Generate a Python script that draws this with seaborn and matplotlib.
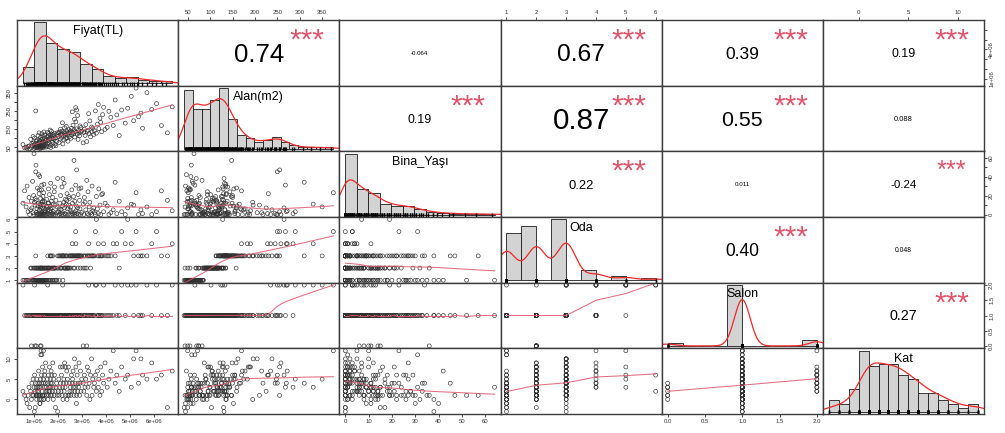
import numpy as np
import matplotlib
matplotlib.use("Agg")
import matplotlib.pyplot as plt
import seaborn as sns
from matplotlib.textpath import TextPath
from matplotlib.font_manager import FontProperties
from matplotlib.transforms import ScaledTranslation

# ---------------------------------------------------------------------------
# Listings: one entry per flat (price in thousand TL)
# ---------------------------------------------------------------------------
fiyat_bin_tl = [
    550, 620, 680, 720, 760, 800, 830, 870, 900, 920, 950, 970, 990,
    1010, 1020, 1030, 1050, 1060, 1080, 1090, 1100, 1100, 1120,
    1130, 1150, 1150, 1170, 1180, 1200, 1200, 1210, 1220, 1230,
    1240, 1250, 1250, 1260, 1270, 1280, 1290, 1300, 1300, 1310,
    1320, 1330, 1340, 1350, 1350, 1360, 1370, 1380, 1390, 1400,
    1400, 1410, 1420, 1430, 1440, 1450, 1460, 1480, 1490, 1500,
    1520, 1530, 1550, 1560, 1580, 1590, 1600, 1610, 1620, 1640,
    1650, 1660, 1680, 1690, 1700, 1700, 1720, 1730, 1750, 1760,
    1780, 1790, 1800, 1810, 1830, 1850, 1860, 1880, 1900, 1920,
    1950, 1970, 1990,
    2020, 2040, 2050, 2080, 2100, 2110, 2130, 2150, 2170, 2190,
    2200, 2210, 2230, 2250, 2260, 2280, 2300, 2310, 2330, 2350,
    2370, 2380, 2400, 2420, 2440, 2460, 2480, 2500,
    2520, 2540, 2560, 2580, 2600, 2610, 2630, 2650, 2670, 2690,
    2700, 2720, 2740, 2750, 2770, 2780, 2800, 2820, 2840, 2860,
    2880, 2900, 2920, 2940, 2960, 2990,
    3050, 3080, 3100, 3130, 3160, 3200, 3220, 3250, 3280, 3300,
    3330, 3360, 3400, 3420, 3450, 3490,
    3520, 3560, 3600, 3640, 3680, 3700, 3750, 3780, 3820, 3860, 3900, 3960,
    4050, 4120, 4200, 4300, 4380, 4450,
    4550, 4650, 4800, 4900,
    5050, 5150, 5250, 5350, 5450,
    5520, 5700, 5900,
    6100, 6300,
    6550, 6750,
]

alan_m2 = [
    66, 48, 52, 45, 55, 58, 42, 95, 50, 72, 60, 110, 75,
    64, 45, 102, 55, 50, 250, 58, 70, 85, 48,
    90, 52, 68, 55, 115, 47, 76, 60, 130, 53,
    80, 88, 57, 62, 44, 105, 59, 74, 50, 93,
    56, 66, 125, 49, 78, 97, 54, 112, 58, 72,
    83, 51, 135, 60, 65, 99, 118, 79, 87, 52,
    58, 92, 108, 70, 133, 86, 114, 55, 126, 75,
    101, 96, 145, 118, 62, 50, 105, 138, 89, 112,
    78, 122, 100, 57, 116, 94, 128, 68, 103, 59,
    83, 119, 131,
    110, 128, 77, 135, 95, 150, 121, 106, 139, 185,
    124, 69, 113, 91, 132, 158, 117, 127, 98, 165,
    104, 136, 120, 84, 129, 147, 109, 133,
    140, 100, 155, 118, 245, 131, 172, 125, 148, 205,
    107, 137, 268, 190, 152, 255, 122, 225, 94, 143,
    129, 114, 168, 134, 159, 139,
    75, 132, 150, 116, 175, 82, 138, 144, 235, 126,
    195, 108, 162, 135, 156, 121,
    142, 250, 128, 178, 285, 153, 210, 188, 136, 230, 270, 149,
    160, 248, 215, 170, 310, 228,
    115, 255, 183, 265,
    330, 196, 375, 218, 238,
    155, 350, 258,
    290, 170,
    130, 272,
]

bina_yasi = [
    12, 25, 8, 30, 3, 18, 0, 5, 14, 7, 35, 2, 20,
    64, 0, 13, 10, 17, 45, 52, 15, 2, 0,
    6, 28, 0, 9, 1, 42, 12, 0, 22, 26,
    5, 0, 40, 11, 8, 17, 1, 6, 0, 11,
    26, 31, 2, 13, 0, 7, 14, 19, 0, 10,
    1, 23, 32, 2, 14, 0, 4, 0, 3, 6,
    9, 16, 0, 8, 5, 1, 12, 27, 12, 0,
    21, 4, 9, 0, 33, 6, 2, 14, 0, 7,
    18, 1, 11, 3, 0, 24, 29, 10, 0, 15,
    2, 8, 38,
    3, 0, 6, 12, 1, 20, 5, 0, 29, 2,
    9, 38, 0, 13, 33, 7, 1, 16, 0, 11,
    15, 22, 6, 0, 10, 19, 17, 5,
    0, 8, 3, 26, 1, 12, 0, 19, 57, 2,
    14, 0, 31, 4, 9, 47, 1, 7, 21, 0,
    27, 15, 6, 0, 28, 2,
    11, 0, 18, 13, 5, 36, 1, 24, 0, 8,
    13, 2, 0, 30, 4, 7,
    2, 0, 19, 6, 1, 27, 10, 0, 21, 22, 3, 12,
    9, 0, 2, 5, 34, 1,
    14, 3, 0, 7,
    11, 10, 23, 0, 5,
    1, 8, 0,
    3, 25,
    15, 4,
]

oda = [
    1, 1, 1, 1, 1, 1, 1, 2, 2, 1, 1, 2, 1,
    1, 1, 2, 2, 1, 3, 1, 2, 1, 1,
    2, 1, 2, 1, 2, 1, 1, 1, 2, 1,
    1, 2, 1, 1, 2, 2, 1, 2, 1, 2,
    1, 1, 2, 1, 1, 2, 1, 2, 1, 1,
    1, 1, 2, 1, 1, 2, 2, 1, 2, 1,
    1, 2, 2, 1, 3, 2, 2, 1, 2, 1,
    2, 2, 3, 3, 1, 1, 2, 3, 2, 2,
    1, 3, 2, 1, 2, 2, 2, 1, 2, 1,
    1, 2, 3,
    2, 3, 1, 3, 2, 3, 2, 2, 3, 3,
    3, 1, 3, 2, 3, 2, 2, 3, 2, 3,
    2, 3, 2, 2, 2, 3, 2, 3,
    3, 2, 3, 3, 4, 3, 3, 2, 3, 3,
    2, 3, 5, 4, 3, 3, 3, 3, 2, 3,
    3, 3, 3, 2, 3, 3,
    2, 3, 3, 2, 3, 2, 3, 3, 4, 3,
    3, 2, 3, 3, 3, 3,
    3, 5, 6, 3, 4, 3, 3, 3, 3, 3, 4, 3,
    3, 3, 3, 4, 3, 4,
    2, 5, 4, 6,
    4, 3, 5, 3, 3,
    3, 3, 4,
    5, 3,
    3, 4,
]

salon = [
    2, 1, 1, 1, 1, 1, 1, 1, 0, 1, 1, 1, 1,
    1, 1, 2, 0, 1, 1, 1, 0, 1, 1,
    1, 1, 1, 1, 1, 1, 1, 1, 1, 1,
    1, 1, 1, 1, 0, 1, 1, 0, 1, 1,
    1, 1, 1, 1, 1, 1, 1, 1, 1, 1,
    1, 1, 1, 1, 1, 1, 1, 1, 1, 1,
    1, 1, 1, 1, 2, 1, 1, 1, 1, 1,
    1, 1, 1, 1, 1, 1, 1, 1, 1, 1,
    1, 1, 1, 1, 1, 1, 1, 1, 1, 1,
    1, 1, 1,
    1, 1, 1, 1, 1, 1, 1, 1, 1, 1,
    2, 1, 1, 1, 1, 1, 1, 1, 1, 1,
    1, 1, 1, 1, 1, 1, 1, 1,
    1, 1, 1, 1, 1, 1, 1, 1, 1, 1,
    1, 1, 1, 1, 1, 1, 1, 1, 1, 1,
    1, 1, 1, 1, 1, 1,
    0, 1, 1, 1, 1, 0, 1, 1, 2, 1,
    1, 1, 1, 1, 1, 1,
    1, 2, 2, 1, 1, 1, 1, 1, 1, 1, 2, 1,
    1, 1, 1, 1, 2, 1,
    1, 2, 1, 2,
    2, 1, 2, 1, 1,
    1, 2, 1,
    2, 1,
    1, 2,
]

kat = [
    2, 1, 0, -1, 1, 3, -2, 2, 0, 4, 1, 5, 1,
    3, -3, 6, 2, -2, 4, 1, 3, 1, 0,
    5, 2, 1, 4, 3, 7, 1, 2, 1, 0,
    3, 4, -1, -1, 1, 5, 11, 3, 12, 0,
    6, 11, 4, 1, 2, 8, 1, 1, 5, 12,
    0, 4, 0, 1, 6, 3, 7, 4, 9, 2,
    3, 1, 2, 5, 4, 0, 6, 1, 2, 3,
    8, 2, 5, 1, 4, 3, 7, 1, 6, 4,
    2, 9, 3, 0, 5, 1, 6, 2, -2, 3,
    4, 1, -3,
    2, 5, 1, 3, 8, 4, 2, 6, 1, 8,
    3, 0, 4, 5, 2, 9, 3, 8, 1, 4,
    7, 0, 5, 1, 8, 1, 4, 2,
    3, 1, 6, 2, 4, 5, 7, 3, 1, 10,
    2, 4, 3, 8, -1, 1, 6, 2, 4, 3,
    9, 1, 4, 7, 2, 5,
    4, 2, 6, 3, 5, 1, 8, 3, 7, 4,
    0, 6, 10, 1, 5, 3,
    4, 6, 2, 7, 3, 5, 1, 8, 2, 6, 4, 9,
    3, 5, 7, 12, 4, 6,
    2, 8, 5, 6,
    3, 10, 12, 4, 10,
    6, 5, 9,
    5, 6,
    -2, 7,
]

var_labels = ["Fiyat(TL)", "Alan(m2)", "Bina_Yaşı", "Oda", "Salon", "Kat"]

# Pearson r for the upper panels (row-major over i < j) and significance marks
corr_labels = ["0.74", "-0.064", "0.67", "0.39", "0.19",
               "0.19", "0.87", "0.55", "0.088",
               "0.22", "0.011", "-0.24",
               "0.40", "0.048",
               "0.27"]
corr_stars = ["***", "", "***", "***", "***",
              "***", "***", "***", "",
              "***", "", "***",
              "***", "",
              "***"]

# outer axis ticks for every variable
axis_ticks = [
    [1e6, 2e6, 3e6, 4e6, 5e6, 6e6],
    [50, 100, 150, 200, 250, 300, 350],
    [0, 10, 20, 30, 40, 50, 60],
    [1, 2, 3, 4, 5, 6],
    [0.0, 0.5, 1.0, 1.5, 2.0],
    [0, 5, 10],
]
horiz_tick_labels = [
    ["1e+06", "2e+06", "3e+06", "4e+06", "5e+06", "6e+06"],
    ["50", "100", "150", "200", "250", "300", "350"],
    ["0", "10", "20", "30", "40", "50", "60"],
    ["1", "2", "3", "4", "5", "6"],
    ["0.0", "0.5", "1.0", "1.5", "2.0"],
    ["0", "5", "10"],
]
vert_tick_labels = [
    ["1e+06", "", "", "4e+06", "", ""],
    ["50", "", "150", "", "250", "", "350"],
    ["0", "", "20", "", "40", "", "60"],
    ["1", "2", "3", "4", "5", "6"],
    ["0.0", "0.5", "1.0", "1.5", "2.0"],
    ["0", "5", "10"],
]

# histogram bin width for each variable
hist_bin_width = [500000, 20, 5, 0.5, 0.2, 1]

# ---------------------------------------------------------------------------
plt.rcParams["font.family"] = ["Liberation Sans", "DejaVu Sans"]

DPI = 100
W_PX, H_PX = 1005, 433
FRAME = "#3c3c3c"
SMOOTH = "#DF536B"
DENS = "#F02828"
STAR = "#DF536B"
TICK_COLOR = "#333333"

columns = [np.asarray(fiyat_bin_tl, float) * 1000.0,
           np.asarray(alan_m2, float),
           np.asarray(bina_yasi, float),
           np.asarray(oda, float),
           np.asarray(salon, float),
           np.asarray(kat, float)]
nvar = len(columns)
assert len({len(c) for c in columns}) == 1


def padded_range(lo, hi):
    pad = 0.04 * (hi - lo)
    return lo - pad, hi + pad


def lowess_curve(x, y, frac=2 / 3, iters=3):
    x = np.asarray(x, float)
    y = np.asarray(y, float)
    order = np.argsort(x, kind="mergesort")
    x, y = x[order], y[order]
    n = len(x)
    ns = max(min(int(round(frac * n)), n), 2)
    dist = np.abs(x[:, None] - x[None, :])
    h = np.sort(dist, axis=1)[:, ns - 1]
    span = x[-1] - x[0]
    rw = np.ones(n)
    fit = np.zeros(n)
    for it in range(iters + 1):
        with np.errstate(divide="ignore", invalid="ignore"):
            u = np.where(h[:, None] > 0, dist / np.where(h > 0, h, 1)[:, None],
                         np.where(dist == 0, 0.0, 2.0))
        w = np.where(u < 0.999, (1 - np.clip(u, 0, 1) ** 3) ** 3, 0.0)
        w = np.where(u <= 0.001, 1.0, w)
        w = w * rw[None, :]
        sw = w.sum(axis=1)
        sw = np.where(sw > 0, sw, 1.0)
        wn = w / sw[:, None]
        xm = wn @ x
        ym = wn @ y
        dx = x[None, :] - xm[:, None]
        b = (wn * dx ** 2).sum(axis=1)
        num = (wn * dx * y[None, :]).sum(axis=1)
        slope = np.where(np.sqrt(b) > 0.001 * span, num / np.where(b > 0, b, 1.0), 0.0)
        fit = ym + slope * (x - xm)
        res = y - fit
        cmad = 6 * np.median(np.abs(res))
        if it == iters or cmad < 1e-7 * np.mean(np.abs(y)):
            break
        r = np.abs(res) / cmad
        rw = np.where(r < 0.999, (1 - r ** 2) ** 2, 0.0)
        rw = np.where(r <= 0.001, 1.0, rw)
    xu, idx = np.unique(x, return_index=True)
    return xu, fit[idx]


def bw_nrd0(v):
    hi = np.std(v, ddof=1)
    q75, q25 = np.percentile(v, [75, 25])
    lo = min(hi, (q75 - q25) / 1.34)
    if lo == 0:
        lo = hi if hi > 0 else (abs(v[0]) if v[0] != 0 else 1.0)
    return 0.9 * lo * len(v) ** -0.2


def kernel_density(v):
    bw = bw_nrd0(v)
    grid = np.linspace(v.min() - 3 * bw, v.max() + 3 * bw, 512)
    z = (grid[:, None] - v[None, :]) / bw
    dens = np.exp(-0.5 * z ** 2).sum(axis=1) / (len(v) * bw * np.sqrt(2 * np.pi))
    return grid, dens


def right_closed_hist(v, width):
    start = np.floor(v.min() / width) * width
    stop = np.ceil(v.max() / width) * width
    k = int(round((stop - start) / width))
    breaks = np.round(start + width * np.arange(k + 1), 10)
    idx = np.searchsorted(breaks, v, side="left") - 1
    idx = np.clip(idx, 0, k - 1)
    counts = np.bincount(idx, minlength=k).astype(float)
    return breaks, counts


fig = plt.figure(figsize=(W_PX / DPI, H_PX / DPI), dpi=DPI)
L, R = 17 / W_PX, 984 / W_PX
T, B = 1 - 20 / H_PX, 1 - 414 / H_PX
pw, ph = (R - L) / nvar, (T - B) / nvar
panel_w_px = pw * W_PX

ranges = [padded_range(c.min(), c.max()) for c in columns]

axes = [[fig.add_axes([L + j * pw, T - (i + 1) * ph, pw, ph]) for j in range(nvar)]
        for i in range(nvar)]

fp = FontProperties(family="Liberation Sans")


def ink_extent(s, size):
    return TextPath((0, 0), s, size=size, prop=fp).get_extents()


pair_k = 0
for i in range(nvar):
    for j in range(nvar):
        ax = axes[i][j]
        ax.set_facecolor("white")
        if i == j:
            v = columns[i]
            breaks, counts = right_closed_hist(v, hist_bin_width[i])
            density = counts / (counts.sum() * np.diff(breaks))
            ax.bar(breaks[:-1], density, width=np.diff(breaks), align="edge",
                   color="#D3D3D3", edgecolor="#1a1a1a", linewidth=0.6)
            gx, gy = kernel_density(v)
            ax.plot(gx, gy, color=DENS, lw=0.9)
            sns.rugplot(x=v, ax=ax, height=0.06, color="black", lw=0.5)
            ax.set_xlim(*padded_range(breaks[0], breaks[-1]))
            ax.set_ylim(-0.04 * density.max(), 1.04 * density.max())
            ax.text(0.5, 0.833, var_labels[i], transform=ax.transAxes,
                    ha="center", va="center", fontsize=9, color="black")
        elif i > j:
            xv, yv = columns[j], columns[i]
            sns.scatterplot(x=xv, y=yv, ax=ax, marker="o", s=8,
                            facecolor="none", edgecolor="#303030", linewidth=0.45)
            sx, sy = lowess_curve(xv, yv)
            ax.plot(sx, sy, color=SMOOTH, lw=0.75, alpha=0.85)
            ax.set_xlim(*ranges[j])
            ax.set_ylim(*ranges[i])
        else:
            ax.set_xlim(*ranges[j])
            ax.set_ylim(*ranges[i])
            txt = corr_labels[pair_k]
            r_val = abs(float(txt))
            base_w_pt = 0.378 * panel_w_px * 72 / DPI
            base_size = 10 * base_w_pt / ink_extent(txt, 10).width
            size = base_size * (r_val + 0.3) / 1.3
            e = ink_extent(txt, size)
            off = ScaledTranslation(0, -(e.y0 + e.y1) / 2 / 72, fig.dpi_scale_trans)
            ax.text(0.5, 0.5, txt, transform=ax.transAxes + off, ha="center",
                    va="baseline", fontsize=size, color="black")
            stars = corr_stars[pair_k]
            if stars:
                star_size = 0.92 * base_size
                es = ink_extent(stars, star_size)
                off_s = ScaledTranslation(0, -(es.y0 + es.y1) / 2 / 72, fig.dpi_scale_trans)
                ax.text(0.8, 0.8, stars, transform=ax.transAxes + off_s, ha="center",
                        va="baseline", fontsize=star_size, color=STAR)
            pair_k += 1

        ax.set_xlabel("")
        ax.set_ylabel("")
        ax.set_xticks([])
        ax.set_yticks([])
        for sp in ax.spines.values():
            sp.set_color(FRAME)
            sp.set_linewidth(1.0)

tick_kw = dict(length=2.2, width=0.6, pad=1.5, labelsize=4.3,
               colors=TICK_COLOR, direction="out")

for j in range(nvar):
    if j % 2 == 1:
        ax = axes[0][j]
        ax.set_xticks(axis_ticks[j])
        ax.set_xticklabels(horiz_tick_labels[j])
        ax.tick_params(axis="x", top=True, labeltop=True, bottom=False,
                       labelbottom=False, **tick_kw)
    else:
        ax = axes[nvar - 1][j]
        ax.set_xticks(axis_ticks[j])
        ax.set_xticklabels(horiz_tick_labels[j])
        ax.tick_params(axis="x", bottom=True, labelbottom=True, top=False,
                       labeltop=False, **tick_kw)

for i in range(nvar):
    if i % 2 == 1:
        ax = axes[i][0]
        ax.set_yticks(axis_ticks[i])
        ax.set_yticklabels(vert_tick_labels[i], rotation=90, va="center")
        ax.tick_params(axis="y", left=True, labelleft=True, right=False,
                       labelright=False, **tick_kw)
    else:
        ax = axes[i][nvar - 1]
        ax.set_yticks(axis_ticks[i])
        ax.set_yticklabels(vert_tick_labels[i], rotation=90, va="center")
        ax.tick_params(axis="y", right=True, labelright=True, left=False,
                       labelleft=False, **tick_kw)

fig.savefig("out.png", dpi=DPI, facecolor="white")
